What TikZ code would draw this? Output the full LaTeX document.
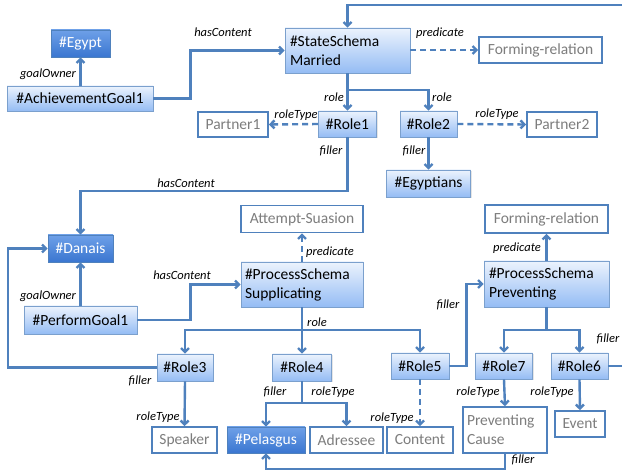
\documentclass[tikz,border=0pt]{standalone}
\usepackage{fontspec}
\setmainfont{Carlito}
\usepackage{tikz}
\usetikzlibrary{arrows.meta, positioning, shadows}
\definecolor{linkblue}{RGB}{79,129,189}
\definecolor{lighttop}{RGB}{236,243,253}
\definecolor{lightbot}{RGB}{148,188,244}
\definecolor{darktop}{RGB}{110,160,232}
\definecolor{darkbot}{RGB}{58,118,208}
\definecolor{labelgray}{RGB}{125,125,125}
\tikzset{
>={Straight Barb[length=4pt,width=8pt]}, % open arrow heads
link/.style={->, draw=linkblue, line width=2.4pt},
dlink/.style={link, dash pattern=on 6pt off 4pt},
box/.style={inner sep=2pt, font=\fontsize{15.5}{19}\selectfont, align=left},
lightbox/.style={box, top color=lighttop, bottom color=lightbot, draw=linkblue!75, line width=0.6pt,
  drop shadow={opacity=0.2, shadow xshift=1pt, shadow yshift=-1pt}},
darkbox/.style={box, text=white, top color=darktop, bottom color=darkbot, draw=linkblue, line width=0.6pt,
  drop shadow={opacity=0.2, shadow xshift=1pt, shadow yshift=-1pt}},
typebox/.style={box, text=labelgray, fill=white, draw=linkblue, line width=1.6pt},
lbl/.style={font=\fontsize{12.5}{14}\itshape\selectfont, inner sep=0pt}
}
\begin{document}
\begin{tikzpicture}[x=1pt, y=-1pt]
\clip (0,0) rectangle (622,473);
\fill[white] (0,0) rectangle (622,473);
% goals
\node[darkbox, minimum width=59pt, minimum height=27pt] (egypt) at (80.5,43.5) {\#Egypt};
\node[lightbox, minimum width=146pt, minimum height=25pt] (ag1) at (80,98.5) {\#AchievementGoal1};
\node[darkbox, minimum width=65pt, minimum height=27pt] (danais) at (80.5,248.5) {\#Danais};
\node[lightbox, minimum width=113pt, minimum height=28pt] (pg1) at (80.5,320) {\#PerformGoal1};
% state schema
\node[lightbox, minimum width=125pt, minimum height=45pt, text width=115pt] (ss) at (347.5,50.5) {\#StateSchema\\Married};
\node[typebox, minimum width=123pt, minimum height=26pt] (fr1) at (540.5,50) {Forming-relation};
\node[typebox, minimum width=70pt, minimum height=25pt] (p1) at (233,124.5) {Partner1};
\node[lightbox, minimum width=58pt, minimum height=26pt] (r1) at (347.5,124) {\#Role1};
\node[lightbox, minimum width=57pt, minimum height=26pt] (r2) at (428.5,124) {\#Role2};
\node[typebox, minimum width=70pt, minimum height=25pt] (p2) at (562,124.5) {Partner2};
\node[lightbox, minimum width=84pt, minimum height=27pt] (egs) at (428.5,183.5) {\#Egyptians};
% process schemas
\node[typebox, minimum width=122pt, minimum height=27pt] (as) at (302,219) {Attempt-Suasion};
\node[lightbox, minimum width=122pt, minimum height=45pt, text width=114pt] (sup) at (302,284.5) {\#ProcessSchema\\Supplicating};
\node[typebox, minimum width=123pt, minimum height=28pt] (fr2) at (546.5,219) {Forming-relation};
\node[lightbox, minimum width=125pt, minimum height=46pt, text width=115pt] (prev) at (546.5,284) {\#ProcessSchema\\Preventing};
% roles
\node[lightbox, minimum width=56pt, minimum height=27pt] (r3) at (185,367.5) {\#Role3};
\node[lightbox, minimum width=59pt, minimum height=27pt] (r4) at (302,367.5) {\#Role4};
\node[lightbox, minimum width=58pt, minimum height=26pt] (r5) at (420,366) {\#Role5};
\node[lightbox, minimum width=57pt, minimum height=26pt] (r7) at (504,366) {\#Role7};
\node[lightbox, minimum width=57pt, minimum height=26pt] (r6) at (579.5,366) {\#Role6};
\node[typebox, minimum width=65pt, minimum height=26pt] (spk) at (184.5,440) {Speaker};
\node[darkbox, minimum width=78pt, minimum height=26pt] (pel) at (266,440) {\#Pelasgus};
\node[typebox, minimum width=73pt, minimum height=26pt] (adr) at (346.5,440) {Adressee};
\node[typebox, minimum width=66pt, minimum height=26pt] (cnt) at (420,440) {Content};
\node[typebox, minimum width=84pt, minimum height=46pt, text width=76pt] (pc) at (505,430) {Preventing\\Cause};
\node[typebox, minimum width=50pt, minimum height=26pt] (evt) at (580,424) {Event};
\coordinate (edge) at (640,5);

% connectors
\draw[link] (ag1.north -| egypt.south) -- (egypt.south);
\draw[link] (ag1.east) -- ++(37,0) |- (ss.west);
\draw[dlink] (ss.east |- fr1.west) -- (fr1.west);
\draw[link] (ss.south) -- (r1.north);
\draw[link] (ss.south) -- ++(0,17) -| (r2.north);
\draw[dlink] (r1.west) -- (p1.east);
\draw[dlink] (r2.east) -- (p2.west);
\draw[link] (r2.south) -- (egs.north);
\draw[link] (r1.south) -- ++(0,54) -| (danais.north);
\draw[link] (pg1.north) -- (danais.south);
\draw[link] (pg1.east) -- ++(53,0) |- (sup.west);
\draw[dlink] (sup.north) -- (as.south);
\draw[link] (sup.south) -- (r4.north);
\draw[link] (sup.south) -- ++(0,23) -| (r3.north);
\draw[link] (sup.south) -- ++(0,23) -| (r5.north);
\draw[link] (r3.west) -- ++(-149,0) |- (danais.west);
\draw[link] (r3.south) -- (spk.north);
\draw[link] (r4.south) -- ++(0,22) -| (pel.north);
\draw[link] (r4.south) -- ++(0,22) -| (adr.north);
\draw[dlink] (r5.south) -- (cnt.north);
\draw[link] (r5.east) -- ++(17,0) |- (prev.west);
\draw[link] (prev.north) -- (fr2.south);
\draw[link] (prev.south) -- ++(0,23) -| (r7.north);
\draw[link] (prev.south) -- ++(0,23) -| (r6.north);
\draw[link] (r7.south) -- (pc.north);
\draw[link] (r6.south) -- (evt.north);
\draw[link] (pc.south) -- ++(0,15) -| (pel.south);
\draw[link] (r6.east) -| (edge) -| (ss.north);

% edge labels
\node[lbl] (l1) at (48,74) {goalOwner};
\node[lbl] (l2) at (223,32) {hasContent};
\node[lbl] (l3) at (440,33) {predicate};
\node[lbl] (l4) at (334,97) {role};
\node[lbl] (l5) at (442,97) {role};
\node[lbl] (l6) at (296,115) {roleType};
\node[lbl] (l7) at (497,114) {roleType};
\node[lbl] (l8) at (331,151) {filler};
\node[lbl] (l9) at (414,151) {filler};
\node[lbl] (l10) at (186,183) {hasContent};
\node[lbl] (l11) at (48,296) {goalOwner};
\node[lbl] (l12) at (182,275) {hasContent};
\node[lbl] (l13) at (330,252) {predicate};
\node[lbl] (l14) at (517,248) {predicate};
\node[lbl] (l15) at (448,305) {filler};
\node[lbl] (l16) at (317,322) {role};
\node[lbl] (l17) at (608,339) {filler};
\node[lbl] (l18) at (140,381) {filler};
\node[lbl] (l19) at (158,417) {roleType};
\node[lbl] (l20) at (275,392) {filler};
\node[lbl] (l21) at (333,392) {roleType};
\node[lbl] (l22) at (392,418) {roleType};
\node[lbl] (l23) at (478,392) {roleType};
\node[lbl] (l24) at (552,392) {roleType};
\node[lbl] (l25) at (523,460) {filler};
\end{tikzpicture}
\end{document}
